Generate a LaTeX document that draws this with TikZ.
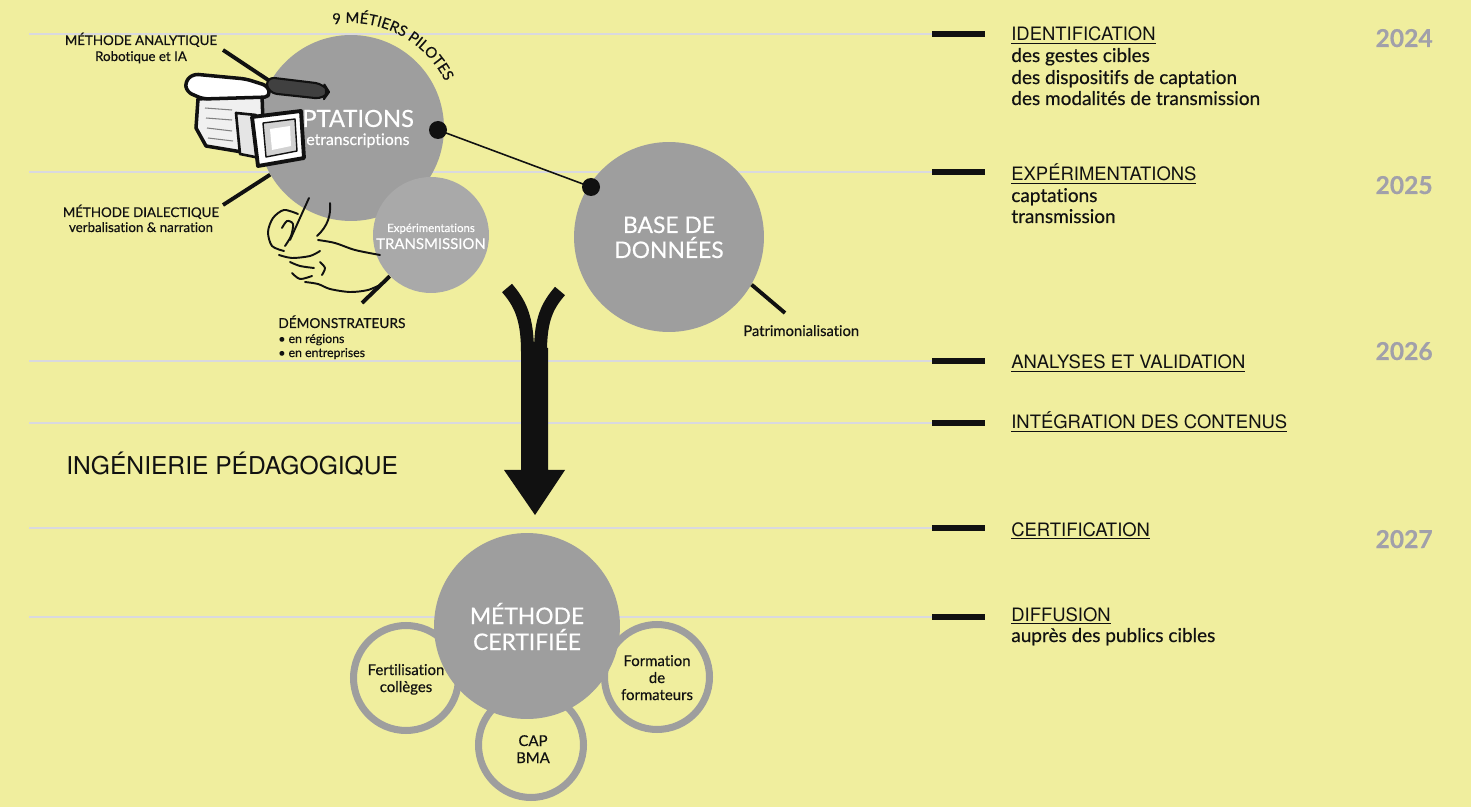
\documentclass[tikz,border=0pt]{standalone}
\usepackage{fontspec}
\setmainfont{Lato}[Ligatures=NoCommon, FakeBold=0.4]
\newfontfamily\headfont{TeX Gyre Heros}
\usetikzlibrary{decorations.text}

\definecolor{paper}{HTML}{F0EE9E}
\definecolor{discgray}{HTML}{9E9E9E}
\definecolor{disclight}{HTML}{A9A9A9}
\definecolor{rulegray}{HTML}{D9D9DF}
\definecolor{yeargray}{HTML}{A1A0AA}
\definecolor{ink}{HTML}{111111}

\tikzset{
  disc/.style={circle, fill=discgray, minimum size=#1, inner sep=0pt},
  ring/.style={circle, draw=discgray, fill=paper, line width=4pt, minimum size=2.1cm, inner sep=0pt},
  gridline/.style={rulegray, line width=0.9pt},
  tickmark/.style={ink, line width=3.4pt},
  lead/.style={ink, line width=2.2pt},
  dot/.style={circle, fill=ink, minimum size=0.36cm, inner sep=0pt},
  head/.style={anchor=base west, inner sep=0pt, ink, font=\headfont\fontsize{10.5}{12}\selectfont},
  sub/.style={anchor=base west, inner sep=0pt, ink, font=\fontsize{10.8}{13}\selectfont},
  yr/.style={anchor=base east, inner sep=0pt, yeargray, font=\bfseries\fontsize{14}{16}\selectfont},
  wtitle/.style={anchor=base, inner sep=0pt, white, font=\fontsize{13}{15}\selectfont},
  lbl/.style={anchor=base, inner sep=0pt, ink, font=\fontsize{7.6}{9}\selectfont},
  rtxt/.style={anchor=base, inner sep=0pt, ink, font=\fontsize{8.5}{10}\selectfont},
}

\begin{document}
\begin{tikzpicture}[x=0.02cm, y=-0.02cm]
\fill[paper] (0,0) rectangle (1471,807);
\useasboundingbox (0,0) rectangle (1471,807);
\clip (0,0) rectangle (1471,807);

% timeline rules
\foreach \y in {34,172,361,423,528,617} {
  \coordinate (g\y) at (29,\y);
  \coordinate (t\y) at (932,\y);
  \draw[gridline] (g\y) -- (t\y);
  \draw[tickmark] (t\y) -- ++(53,0);
}

% phases
\node[head] (h1) at (1011,41) {\underline{IDENTIFICATION}};
\node[sub] (s11) at (1011,62) {des gestes cibles};
\node[sub] (s12) at (1011,84) {des dispositifs de captation};
\node[sub] (s13) at (1011,105) {des modalités de transmission};
\node[head] (h2) at (1011,181) {\underline{EXPÉRIMENTATIONS}};
\node[sub] (s21) at (1011,202) {captations};
\node[sub] (s22) at (1011,223) {transmission};
\node[head] (h3) at (1011,369) {\underline{ANALYSES ET VALIDATION}};
\node[head] (h4) at (1011,429) {\underline{INTÉGRATION DES CONTENUS}};
\node[head] (h5) at (1011,536) {\underline{CERTIFICATION}};
\node[head] (h6) at (1011,621) {\underline{DIFFUSION}};
\node[sub] (s61) at (1011,642) {auprès des publics cibles};

% years
\node[yr] (y24) at (1433,47) {2024};
\node[yr] (y25) at (1433,194) {2025};
\node[yr] (y26) at (1433,360) {2026};
\node[yr] (y27) at (1433,548) {2027};

% circles
\node[disc=3.72cm] (cap) at (351,128) {};
\node[disc=2.32cm, fill=disclight] (trans) at (431,235) {};
\node[disc=3.8cm] (base) at (669,237) {};
\node[ring] (fert) at (406,678) {};
\node[ring] (cb) at (531,745) {};
\node[ring] (form) at (657,677) {};
\node[disc=3.72cm] (meth) at (527,626) {};

\node[wtitle, anchor=base west, font=\fontsize{13.5}{15}\selectfont] (cap1) at (302,127) {PTATIONS};
\node[wtitle, anchor=base west, font=\fontsize{9}{11}\selectfont] (cap2) at (306,145) {etranscriptions};
\node[wtitle, font=\fontsize{6.5}{8}\selectfont] (tr1) at (431,232) {Expérimentations};
\node[wtitle, font=\fontsize{8.5}{10}\selectfont] (tr2) at (431,249) {TRANSMISSION};
\node[wtitle] (b1) at (669,233) {BASE DE};
\node[wtitle] (b2) at (669,258) {DONNÉES};
\node[wtitle] (m1) at (527,624) {MÉTHODE};
\node[wtitle] (m2) at (527,650) {CERTIFIÉE};

\node[rtxt] (f1) at (406,675) {Fertilisation};
\node[rtxt] (f2) at (406,692) {collèges};
\node[rtxt] (c1) at (533,746) {CAP};
\node[rtxt] (c2) at (533,763) {BMA};
\node[rtxt] (o1) at (657,666) {Formation};
\node[rtxt] (o2) at (657,683) {de};
\node[rtxt] (o3) at (657,700) {formateurs};

% curved title
\path[decorate, decoration={text along path, text align=center,
  text={|\fontsize{8.4}{10}\selectfont\color{ink}|9 MÉTIERS PILOTES}}]
  (332.8,24.6) arc[start angle=-100, end angle=-26, radius=105];

% side labels
\node[lbl] (ana1) at (141,45) {MÉTHODE ANALYTIQUE};
\node[lbl] (ana2) at (141,61) {Robotique et IA};
\node[lbl] (dia1) at (141,217) {MÉTHODE DIALECTIQUE};
\node[lbl] (dia2) at (141,232) {verbalisation \& narration};
\node[lbl, anchor=base west, font=\fontsize{7.8}{9}\selectfont] (dem1) at (278,328) {DÉMONSTRATEURS};
\node[lbl, anchor=base west, font=\fontsize{7}{8}\selectfont] (dem2) at (278,343) {• en régions};
\node[lbl, anchor=base west, font=\fontsize{7}{8}\selectfont] (dem3) at (278,357) {• en entreprises};
\node[lbl, anchor=base west, font=\fontsize{8.4}{10}\selectfont] (pat) at (743,336) {Patrimonialisation};
\node[anchor=base west, inner sep=0pt, ink, font=\headfont\fontsize{14}{16}\selectfont] (ing) at (66,475) {INGÉNIERIE PÉDAGOGIQUE};

% leaders
\coordinate (ana-end) at (223,50);
\coordinate (dia-end) at (223,205);
\coordinate (dem-end) at (362,303);
\coordinate (pat-end) at (785,313);
\draw[lead] (ana-end) -- (cap.150);
\draw[lead] (dia-end) -- (cap.210);
\draw[lead] (dem-end) -- (trans.225);
\draw[lead] (pat-end) -- (base.-30);

% link captations -> base
\node[dot] (d1) at (438,130) {};
\node[dot] (d2) at (591,187) {};
\draw[ink, line width=0.9pt] (d1.center) -- (d2.center);

% camera
\begin{scope}[ink, line join=round]
  \draw[line width=2pt, fill=gray!12] (198,99) -- (262,95) -- (264,150) -- (254,154) -- (206,146) -- (196,128) -- cycle;
  \draw[line width=0.6pt, gray] (205,108) -- (232,110) (206,118) -- (232,120) (207,128) -- (232,131) (208,138) -- (233,141);
  \draw[line width=2pt, fill=white, rounded corners=3] (185,82) -- (193,74) -- (246,79) -- (268,86) -- (270,97) -- (203,99) -- (187,92) -- cycle;
  \draw[line width=1.2pt, fill=black!75, rounded corners=5] (266,77) -- (324,84) -- (329,92) -- (324,99) -- (268,93) -- cycle;
  \draw[line width=1.5pt, fill=gray!20] (236,113) -- (256,115) -- (260,158) -- (240,154) -- cycle;
  \draw[line width=2.2pt, fill=white] (252,117) -- (301,111) -- (304,158) -- (258,166) -- cycle;
  \draw[line width=0.8pt, fill=gray!35] (263,123) -- (295,119) -- (297,151) -- (266,157) -- cycle;
  \fill[white] (270,129) -- (290,126) -- (291,146) -- (272,150) -- cycle;
\end{scope}

% hand
\begin{scope}[ink, line width=1.1pt, line cap=round]
  \draw (309,198) -- (290,240);
  \draw (330,203) .. controls (331,215) and (328,226) .. (317,236);
  \draw plot[smooth] coordinates {(298,214) (284,210) (273,218) (268,232) (272,246) (284,251)};
  \draw plot[smooth] coordinates {(282,228) (287,221) (293,224) (291,236) (285,246)};
  \draw plot[smooth] coordinates {(279,255) (292,258) (310,256) (320,251)};
  \draw plot[smooth] coordinates {(318,240) (335,243) (355,250) (380,255)};
  \draw plot[smooth] coordinates {(290,262) (300,266) (314,268)};
  \draw plot[smooth] coordinates {(292,273) (300,279) (312,276)};
  \draw plot[smooth] coordinates {(305,282) (318,284) (330,289) (350,292) (368,290) (382,284)};
  \draw plot[smooth] coordinates {(320,262) (325,268) (322,275)};
\end{scope}

% big arrow
\draw[ink, line width=7.4pt] (527.5,352) .. controls (527.5,318) and (520,303) .. (507,288);
\draw[ink, line width=7.4pt] (540.5,352) .. controls (540.5,318) and (548,305) .. (560,291);
\fill[ink] (521,348) -- (548,348) -- (548,470) -- (565,470) -- (535,515) -- (504,470) -- (521,470) -- cycle;
\end{tikzpicture}
\end{document}
